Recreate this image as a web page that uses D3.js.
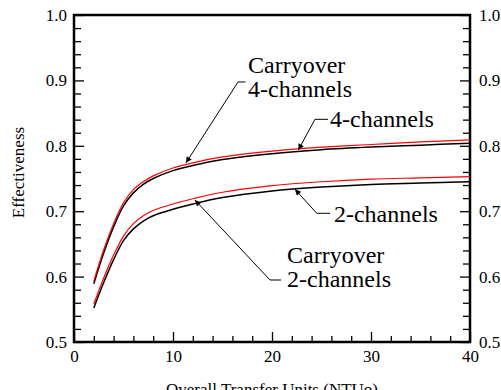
<!DOCTYPE html>
<html>
<head>
<meta charset="utf-8">
<script src="https://cdn.jsdelivr.net/npm/d3@7"></script>
<style>
  body { margin: 0; background: #fff; }
  svg text { font-family: "Liberation Serif", "Times New Roman", Times, serif !important; fill: #000; }
</style>
</head>
<body>
<div id="root"></div>
<script>
// values
var ntu = [2, 3, 4, 5, 6, 7, 8, 10, 12, 15, 20, 25, 30, 35, 40];
var fourChannels = [0.593, 0.641, 0.681, 0.713, 0.733, 0.745, 0.754, 0.766, 0.774, 0.783, 0.792, 0.798, 0.802, 0.806, 0.809];
var fourChannelsCarryover = [0.589, 0.636, 0.676, 0.708, 0.728, 0.741, 0.750, 0.762, 0.770, 0.779, 0.788, 0.794, 0.798, 0.801, 0.804];
var twoChannels = [0.558, 0.598, 0.633, 0.662, 0.681, 0.693, 0.701, 0.711, 0.719, 0.729, 0.739, 0.745, 0.749, 0.751, 0.753];
var twoChannelsCarryover = [0.552, 0.591, 0.626, 0.655, 0.673, 0.685, 0.693, 0.703, 0.711, 0.721, 0.731, 0.737, 0.741, 0.743, 0.745];

var xMajor = [0, 10, 20, 30, 40];
var yMajor = [0.5, 0.6, 0.7, 0.8, 0.9, 1.0];

// annotation labels: tip, elbow and text anchor in data units
var labels = [
  { lines: ['Carryover', '4-channels'], tip: [11.31, 0.774], elbow: [16.57, 0.8976], end: 17.32, text: [17.58, 0.9113] },
  { lines: ['4-channels'], tip: [22.66, 0.7936], elbow: [24.34, 0.8405], end: 25.66, text: [25.86, 0.8287] },
  { lines: ['2-channels'], tip: [22.32, 0.7335], elbow: [24.52, 0.6968], end: 25.86, text: [26.26, 0.6835] },
  { lines: ['Carryover', '2-channels'], tip: [12.22, 0.717], elbow: [19.80, 0.5948], end: 20.91, text: [21.52, 0.6208] }
];

var W = 501, H = 390;
var margin = { left: 74, top: 15, right: 31, bottom: 48 };
var w = W - margin.left - margin.right;
var h = H - margin.top - margin.bottom;
var serif = '"Liberation Serif", "Times New Roman", Times, serif';

var svg = d3.select('#root')
  .append('svg')
    .attr('width', W)
    .attr('height', H)
    .attr('font-family', serif);

svg.append('defs').append('marker')
    .attr('id', 'arrow')
    .attr('viewBox', '0 0 10 10')
    .attr('refX', 10)
    .attr('refY', 5)
    .attr('markerUnits', 'userSpaceOnUse')
    .attr('markerWidth', 9)
    .attr('markerHeight', 6)
    .attr('orient', 'auto')
  .append('path')
    .attr('d', 'M0,0 L10,5 L0,10 Z')
    .attr('fill', '#000');

var g = svg.append('g')
  .attr('transform', 'translate(' + margin.left + ',' + margin.top + ')');

var x = d3.scaleLinear().domain([0, 40]).range([0, w]);
var y = d3.scaleLinear().domain([0.5, 1.0]).range([h, 0]);

var xMinor = d3.range(0, 40.01, 2).filter(v => xMajor.indexOf(v) < 0);
var yMinor = d3.range(0.5, 1.001, 0.02).filter(v => !yMajor.some(m => Math.abs(m - v) < 1e-6));

// inward ticks, labels on left, right and bottom
function styleAxis(sel) {
  sel.attr('font-family', serif).attr('font-size', 17);
  sel.select('.domain').remove();
  sel.selectAll('line').attr('stroke', '#000').attr('stroke-width', 1.3);
  sel.selectAll('text').style('font-family', serif).style('font-size', '17px');
}

g.append('g')
  .attr('transform', 'translate(0,' + h + ')')
  .call(d3.axisBottom(x).tickValues(xMinor).tickSize(-6).tickFormat(''))
  .call(styleAxis);
g.append('g')
  .attr('transform', 'translate(0,' + h + ')')
  .call(d3.axisBottom(x).tickValues(xMajor).tickSize(-10).tickPadding(8).tickFormat(d3.format('d')))
  .call(styleAxis);

g.append('g')
  .call(d3.axisLeft(y).tickValues(yMinor).tickSize(-7).tickFormat(''))
  .call(styleAxis);
g.append('g')
  .call(d3.axisLeft(y).tickValues(yMajor).tickSize(-10).tickPadding(7).tickFormat(d3.format('.1f')))
  .call(styleAxis);

g.append('g')
  .attr('transform', 'translate(' + w + ',0)')
  .call(d3.axisRight(y).tickValues(yMinor).tickSize(-7).tickFormat(''))
  .call(styleAxis);
g.append('g')
  .attr('transform', 'translate(' + w + ',0)')
  .call(d3.axisRight(y).tickValues(yMajor).tickSize(-10).tickPadding(9).tickFormat(d3.format('.1f')))
  .call(styleAxis);

g.append('rect')
  .attr('width', w)
  .attr('height', h)
  .attr('fill', 'none')
  .attr('stroke', '#000')
  .attr('stroke-width', 2.5);

// curves
var line = d3.line()
  .x(d => x(d[0]))
  .y(d => y(d[1]))
  .curve(d3.curveCatmullRom.alpha(0.5));

var series = [
  { values: twoChannelsCarryover, color: '#000', width: 1.5 },
  { values: fourChannelsCarryover, color: '#000', width: 1.5 },
  { values: twoChannels, color: '#ff0000', width: 1.2 },
  { values: fourChannels, color: '#ff0000', width: 1.2 }
];

g.selectAll('path.curve')
  .data(series)
  .enter()
  .append('path')
    .attr('class', 'curve')
    .attr('fill', 'none')
    .attr('stroke', d => d.color)
    .attr('stroke-width', d => d.width)
    .attr('d', d => line(ntu.map((n, i) => [n, d.values[i]])));

// leaders with arrow heads
labels.forEach(l => {
  g.append('path')
    .attr('fill', 'none')
    .attr('stroke', '#000')
    .attr('stroke-width', 1)
    .attr('marker-end', 'url(#arrow)')
    .attr('d', 'M' + x(l.end) + ',' + y(l.elbow[1]) +
               'L' + x(l.elbow[0]) + ',' + y(l.elbow[1]) +
               'L' + x(l.tip[0]) + ',' + y(l.tip[1]));

  var t = g.append('text')
    .attr('x', x(l.text[0]))
    .attr('y', y(l.text[1]))
    .style('font-family', serif)
    .style('font-size', '24px');
  l.lines.forEach((s, i) => {
    t.append('tspan')
      .attr('x', x(l.text[0]))
      .attr('dy', i === 0 ? 0 : 24)
      .text(s);
  });
});

// axis titles
svg.append('text')
  .attr('transform', 'translate(23.5,' + (margin.top + h / 2 - 6) + ') rotate(-90)')
  .attr('text-anchor', 'middle')
  .style('font-family', serif)
  .style('font-size', '17px')
  .text('Effectiveness');

svg.append('text')
  .attr('x', margin.left + w / 2)
  .attr('y', 395)
  .attr('text-anchor', 'middle')
  .style('font-family', serif)
  .style('font-size', '17px')
  .text('Overall Transfer Units (NTUo)');
</script>
</body>
</html>
